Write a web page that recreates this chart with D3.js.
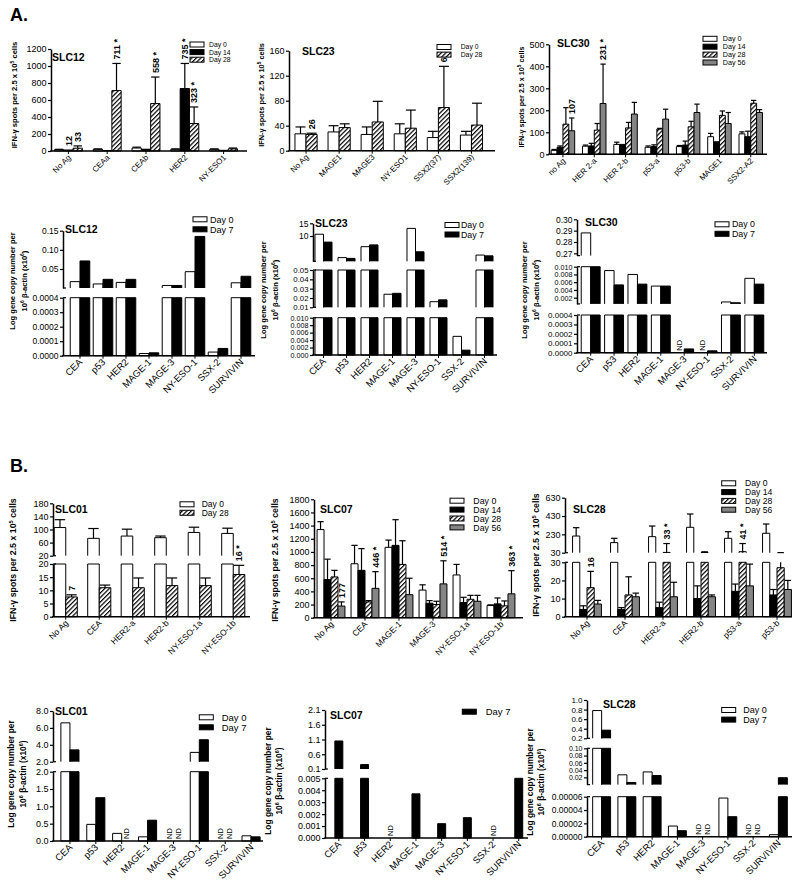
<!DOCTYPE html>
<html><head><meta charset="utf-8">
<script src="https://cdn.jsdelivr.net/npm/d3@7"></script>
<style>body{margin:0;background:#fff}svg{display:block}text{font-family:"Liberation Sans",Arial,sans-serif;fill:#000}</style>
</head><body><svg id="c" width="800" height="889"></svg>
<script>
// ================= DATA =================
const geneCats = ["CEA","p53","HER2","MAGE-1","MAGE-3","NY-ESO-1","SSX-2","SURVIVIN"];

// A1  SLC12 ELISPOT
const a1Cats = ["No Ag","CEAa","CEAb","HER2","NY-ESO1"];
const a1Series = ["Day 0","Day 14","Day 28"];
const a1Values = [[15,20,35,20,20],[12,5,15,735,8],[33,711,558,323,25]];
const a1Errors = [[20,25,45,25,25],[null,null,20,1030,null],[60,1030,870,518,35]];
const a1Labels = [["No Ag",1,"12"],["No Ag",2,"33"],["CEAa",2,"711 *"],["CEAb",2,"558 *"],["HER2",1,"735 *"],["HER2",2,"323 *"]];
const a1Ticks = [[0,200,400,600,800,1000,1200]];
const a1Domains = [[0,1200]];

// A2  SLC23 ELISPOT
const a2Cats = ["No Ag","MAGE1","MAGE3","NY-ESO1","SSX2(37)","SSX2(139)"];
const a2Series = ["Day 0","Day 28"];
const a2Values = [[27,30,26,27,21,25],[26,37,46,36,69,41]];
const a2Errors = [[38,40,38,43,31,31],[28,43,79,65,135,76]];
const a2Labels = [["No Ag",1,"26"],["SSX2(37)",1,"69 *"]];
const a2Ticks = [[0,40,80,120,160]];
const a2Domains = [[0,160]];

// A3  SLC30 ELISPOT
const a3Cats = ["no Ag","HER 2-a","HER 2-b","p53-a","p53-b","MAGE1","SSX2-A2"];
const a3Series = ["Day 0","Day 14","Day 28","Day 56"];
const a3Values = [[18,37,45,32,35,80,93],[32,38,45,35,42,57,80],[137,110,120,115,125,177,232],[107,231,183,160,190,140,190]];
const a3Errors = [[22,42,55,38,40,95,102],[38,50,null,43,60,null,105],[212,140,145,118,150,197,245],[165,410,236,205,228,190,203]];
const a3Labels = [["no Ag",3,"107"],["HER 2-a",3,"231 *"]];
const a3Ticks = [[0,100,200,300,400,500]];
const a3Domains = [[0,500]];

// A4  SLC12 gene copies
const a4Series = ["Day 0","Day 7"];
const a4Values = [[0.017,0.011,0.015,0.000015,0.007,0.043,0.000025,0.014],[0.071,0.023,0.023,0.00002,0.007,0.135,0.00005,0.031]];
const a4Domains = [[0,0.0004],[0.0004,0.15]];
const a4Ticks = [[0,0.0001,0.0002,0.0003,0.0004],[0.05,0.10,0.15]];
const a4Formats = [".4f",".2f"];

// A5  SLC23 gene copies
const a5Series = ["Day 0","Day 7"];
const a5Values = [[10.7,1.5,5.8,0.024,13.0,0.016,0.005,2.5],[7.6,1.2,6.5,0.025,3.8,0.018,0.0013,2.2]];
const a5Domains = [[0,0.01],[0.01,0.05],[0.05,15]];
const a5Ticks = [[0,0.002,0.004,0.006,0.008,0.010],[0.01,0.02,0.03,0.04,0.05],[10,15]];
const a5Formats = [".3f",".2f","d"];

// A6  SLC30 gene copies (null = ND)
const a6Series = ["Day 0","Day 7"];
const a6Values = [[0.288,0.009,0.008,0.005,null,null,0.0009,0.007],[0.010,0.0053,0.0055,0.005,0.00004,0.00002,0.0007,0.0055]];
const a6Domains = [[0,0.0004],[0.0004,0.010],[0.268,0.30]];
const a6Ticks = [[0,0.0001,0.0002,0.0003,0.0004],[0.002,0.004,0.006,0.008,0.010],[0.27,0.28,0.29,0.30]];
const a6Formats = [".4f",".3f",".2f"];

// B1  SLC01 ELISPOT
const b1Cats = ["No Ag","CEA","HER2-a","HER2-b","NY-ESO-1a","NY-ESO-1b"];
const b1Series = ["Day 0","Day 28"];
const b1Values = [[106,73,80,75,91,88],[7.5,11,11,11.8,11.8,16]];
const b1Errors = [[130,103,101,80,107,104],[8.3,12,14.7,14.7,14.7,19.5]];
const b1Labels = [["No Ag",1,"7"],["NY-ESO-1b",1,"16 *"]];
const b1Domains = [[0,20],[20,180]];
const b1Ticks = [[0,5,10,15,20],[20,60,100,140,180]];

// B2  SLC07 ELISPOT
const b2Cats = ["No Ag","CEA","MAGE-1","MAGE-3","NY-ESO-1a","NY-ESO-1b"];
const b2Series = ["Day 0","Day 14","Day 28","Day 56"];
const b2Values = [[1340,820,1070,420,650,185],[580,720,1100,220,230,210],[620,240,810,200,280,180],[177,446,350,514,250,363]];
const b2Errors = [[1460,1100,1180,500,810,195],[890,1050,1490,260,310,300],[720,260,1170,250,340,255],[240,700,600,865,340,715]];
const b2Labels = [["No Ag",3,"177"],["CEA",3,"446 *"],["MAGE-3",3,"514 *"],["NY-ESO-1b",3,"363 *"]];
const b2Domains = [[0,1800]];
const b2Ticks = [[0,200,400,600,800,1000,1200,1400,1600,1800]];

// B3  SLC28 ELISPOT
const b3Cats = ["No Ag","CEA","HER2-a","HER2-b","p53-a","p53-b"];
const b3Series = ["Day 0","Day 14","Day 28","Day 56"];
const b3Values = [[212,140,205,307,187,242],[4,4,5,10,14,12],[16,12,33,32,41,27],[7,11,11,11,17,15]];
const b3Errors = [[303,187,321,452,259,343],[6,5,8,17,18,15],[25,22,130,40,130,31],[9,13,19,12,29,20]];
const b3Labels = [["No Ag",2,"16"],["HER2-a",2,"33 *"],["p53-a",2,"41 *"]];
const b3Domains = [[0,30],[30,630]];
const b3Ticks = [[0,10,20,30],[30,230,430,630]];

// B4  SLC01 gene copies
const b4Series = ["Day 0","Day 7"];
const b4Values = [[6.6,0.48,0.22,0.12,null,3.1,null,0.15],[3.4,1.25,null,0.6,null,4.6,null,0.12]];
const b4Domains = [[0,2],[2,8]];
const b4Ticks = [[0,0.5,1.0,1.5,2.0],[2,4,6,8]];
const b4Formats = [".1f",".1f"];

// B5  SLC07 gene copies
const b5Series = ["Day 7"];
const b5Values = [[1.05,0.25,null,0.0037,0.0012,0.0017,null,0.005]];
const b5Domains = [[0,0.005],[0.1,2.1]];
const b5Ticks = [[0,0.001,0.002,0.003,0.004,0.005],[0.1,0.6,1.1,1.6,2.1]];
const b5Formats = [".3f",".1f"];

// B6  SLC28 gene copies
const b6Series = ["Day 0","Day 7"];
const b6Values = [[0.78,0.027,0.035,0.000016,null,0.000058,null,0.000003],[0.37,0.006,0.025,0.000009,null,0.00003,null,0.019]];
const b6Domains = [[0,0.00006],[0.00006,0.10],[0.2,1.0]];
const b6Ticks = [[0,0.00002,0.00004,0.00006],[0.02,0.04,0.06,0.08,0.10],[0.2,0.4,0.6,0.8,1.0]];
const b6Formats = [".5f",".2f",".1f"];

// ================= DRAWING =================
const svg = d3.select("#c");
const defs = svg.append("defs");
const pat = defs.append("pattern").attr("id","hatch").attr("patternUnits","userSpaceOnUse")
  .attr("width",3.2).attr("height",3.2).attr("patternTransform","rotate(45)");
pat.append("rect").attr("width",3.2).attr("height",3.2).attr("fill","#fff");
pat.append("line").attr("x1",0.6).attr("y1",0).attr("x2",0.6).attr("y2",3.2).attr("stroke","#000").attr("stroke-width",1.2);

const fills = {"Day 0":"#fff","Day 14":"#000","Day 28":"url(#hatch)","Day 56":"#858585","Day 7":"#000"};

function rich(sel, parts, fs){
  let prevSup=false;
  parts.forEach(([t,sup])=>{
    const ts = sel.append("tspan").text(t).attr("font-size", sup? fs*0.65 : fs);
    if (sup) ts.attr("dy", -fs*0.38); else if (prevSup) ts.attr("dy", fs*0.38);
    prevSup = sup;
  });
}
const ifnTitle = [["IFN-\u03b3 spots per 2.5 x 10",0],["5",1],[" cells",0]];
const geneTitle1 = [["Log gene copy number per",0]];
const geneTitle2 = [["10",0],["6",1],[" \u03b2-actin (x10",0],["6",1],[")",0]];

function drawPanel(c){
  const g = svg.append("g");
  const segs = c.domains.map((d,i)=>({domain:d, ticks:c.ticks[i], fmt:(c.formats||[])[i]||"d",
     y:d3.scaleLinear().domain(d).range(c.ranges[i])}));
  const base = c.ranges[0][0];
  const xg = d3.scaleBand().domain(c.cats).range(c.band).paddingInner(c.pad).paddingOuter(c.pad/2);
  const xs = d3.scaleBand().domain(d3.range(c.series.length)).range([0,xg.bandwidth()]);
  const bw = xs.bandwidth();

  // bars
  c.series.forEach((sn,j)=>{
    c.cats.forEach((cat,i)=>{
      const v = c.values[j][i];
      const bx = xg(cat)+xs(j), cx = bx+bw/2;
      if (v==null){
        g.append("text").attr("transform",`translate(${cx+2.6},${base-2}) rotate(-90)`)
          .attr("font-size",7.5).text("ND");
        return;
      }
      segs.forEach((s,k)=>{
        const a=s.domain[0], b=s.domain[1];
        if (v<=a) return;
        const top=Math.min(v,b);
        const y0=s.y(a), y1=s.y(top);
        g.append("rect").attr("x",bx).attr("y",y1).attr("width",bw).attr("height",Math.max(0,y0-y1))
          .attr("fill",fills[sn]);
        g.append("path").attr("d",`M${bx},${y0}V${y1}H${bx+bw}V${y0}`+(k===0?"Z":""))
          .attr("fill","none").attr("stroke","#000").attr("stroke-width",1);
      });
      const e = c.errors ? c.errors[j][i] : null;
      if (e!=null && e>v){
        segs.forEach(s=>{
          const lo=Math.max(v,s.domain[0]), hi=Math.min(e,s.domain[1]);
          if (hi<=lo) return;
          g.append("line").attr("x1",cx).attr("x2",cx).attr("y1",s.y(lo)).attr("y2",s.y(hi))
            .attr("stroke","#000").attr("stroke-width",1.2);
        });
        const st = segs.find(s=>e>=s.domain[0]&&e<=s.domain[1]);
        if (st) g.append("line").attr("x1",cx-bw*0.45).attr("x2",cx+bw*0.45).attr("y1",st.y(e)).attr("y2",st.y(e))
            .attr("stroke","#000").attr("stroke-width",1.2);
      }
    });
  });

  // value labels
  (c.labels||[]).forEach(([cat,j,txt])=>{
    const v=c.values[j][c.cats.indexOf(cat)];
    const e=c.errors? c.errors[j][c.cats.indexOf(cat)] : null;
    let top=Math.max(v, e==null? v : e);
    let s = segs.find(s=>top>=s.domain[0]&&top<=s.domain[1]);
    if (!s){ s = segs.filter(s=>s.domain[1]<top).pop(); top=s.domain[1]; }
    const cx = xg(cat)+xs(j)+bw/2;
    g.append("text").attr("transform",`translate(${cx+3.2},${s.y(top)-4}) rotate(-90)`)
      .attr("font-size",9).attr("font-weight","bold").text(txt);
  });

  // y axis segments
  segs.forEach((s,k)=>{
    const ax = g.append("g").attr("transform",`translate(${c.axisX},0)`)
      .call(d3.axisLeft(s.y).tickValues(s.ticks).tickFormat(d3.format(s.fmt)).tickSize(3).tickSizeOuter(0).tickPadding(1.5));
    ax.select(".domain").attr("stroke-width",1.5);
    ax.selectAll(".tick line").attr("stroke-width",1.2);
    const fs = (c.segFs && c.segFs[k]) || c.tickFs;
    ax.selectAll("text").attr("font-size",fs).attr("font-family","Liberation Sans, Arial, sans-serif").attr("fill","#222");
    if (segs.length>1){
      const ends=[];
      if (k>0) ends.push(s.y(s.domain[0]));
      if (k<segs.length-1) ends.push(s.y(s.domain[1]));
      ends.forEach(yy=>g.append("line").attr("x1",c.axisX).attr("x2",c.axisX+3).attr("y1",yy).attr("y2",yy)
        .attr("stroke","#000").attr("stroke-width",1.2));
    }
  });

  // x axis
  g.append("line").attr("x1",c.axisX-0.75).attr("x2",c.xEnd).attr("y1",base).attr("y2",base)
    .attr("stroke","#000").attr("stroke-width",1.5);
  c.cats.forEach(cat=>{
    const cx = xg(cat)+xg.bandwidth()/2;
    g.append("line").attr("x1",cx).attr("x2",cx).attr("y1",base).attr("y2",base+3).attr("stroke","#000").attr("stroke-width",1);
    g.append("text").attr("transform",`translate(${cx+3},${base+7}) rotate(-45)`)
      .attr("text-anchor","end").attr("font-size",c.xFs).attr("fill","#222").text(cat);
  });

  // title
  g.append("text").attr("x",c.title[0]).attr("y",c.title[1]).attr("font-size",10.5).attr("font-weight","bold").text(c.name);

  // y title
  if (c.gene){
    [geneTitle1,geneTitle2].forEach((parts,li)=>{
      const t=g.append("text").attr("transform",`translate(${c.ytitle[li]},${c.ytitle[2]}) rotate(-90)`)
        .attr("text-anchor","middle").attr("font-weight","bold");
      rich(t,parts,c.ytFs);
    });
  } else {
    const t=g.append("text").attr("transform",`translate(${c.ytitle[0]},${c.ytitle[1]}) rotate(-90)`)
      .attr("text-anchor","middle").attr("font-weight","bold");
    rich(t,ifnTitle,c.ytFs);
  }

  // legend
  const L=c.legend;
  c.series.forEach((sn,k)=>{
    const yy=L.y+k*L.dy;
    g.append("rect").attr("x",L.x).attr("y",yy-2.5).attr("width",14).attr("height",5)
      .attr("fill",fills[sn]).attr("stroke","#000").attr("stroke-width",1);
    g.append("text").attr("x",L.tx).attr("y",yy+L.fs*0.36).attr("font-size",L.fs).attr("fill","#222").text(sn);
  });
}

svg.append("text").attr("x",10).attr("y",21).attr("font-size",18).attr("font-weight","bold").text("A.");
svg.append("text").attr("x",10).attr("y",472).attr("font-size",18).attr("font-weight","bold").text("B.");

drawPanel({name:"SLC12",cats:a1Cats,series:a1Series,values:a1Values,errors:a1Errors,labels:a1Labels,
  domains:a1Domains,ticks:a1Ticks,ranges:[[151,49]],axisX:51,xEnd:247,band:[49,243],pad:0.28,
  title:[52,61],ytitle:[17,95],ytFs:7.6,tickFs:9,xFs:8,legend:{x:190,y:44.5,dy:7.6,tx:209,fs:6.8}});
drawPanel({name:"SLC23",cats:a2Cats,series:a2Series,values:a2Values,errors:a2Errors,labels:a2Labels,
  domains:a2Domains,ticks:a2Ticks,ranges:[[150.7,50.7]],axisX:289,xEnd:495,band:[289.5,488],pad:0.33,
  title:[302,55],ytitle:[264,95],ytFs:7.4,tickFs:9,xFs:8,legend:{x:437,y:47,dy:7.6,tx:460.7,fs:6.8}});
drawPanel({name:"SLC30",cats:a3Cats,series:a3Series,values:a3Values,errors:a3Errors,labels:a3Labels,
  domains:a3Domains,ticks:a3Ticks,ranges:[[154.3,44.3]],axisX:549,xEnd:767,band:[547.3,766.4],pad:0.25,
  title:[557,47],ytitle:[524,97],ytFs:7.2,tickFs:9,xFs:8,legend:{x:703,y:38.8,dy:7.9,tx:722.7,fs:7.2}});

drawPanel({name:"SLC12",gene:true,cats:geneCats,series:a4Series,values:a4Values,
  domains:a4Domains,ticks:a4Ticks,formats:a4Formats,ranges:[[355.7,297.7],[288,230.7]],axisX:63,xEnd:255,band:[68.5,252.5],pad:0.15,
  title:[65,233],ytitle:[15,27,281],ytFs:7.6,tickFs:8.5,xFs:9.5,legend:{x:193,y:219.3,dy:10,tx:210,fs:9}});
drawPanel({name:"SLC23",gene:true,cats:geneCats,series:a5Series,values:a5Values,
  domains:a5Domains,ticks:a5Ticks,formats:a5Formats,segFs:[7.2,7.8,8.5],ranges:[[355,317.7],[307.3,270],[261.3,223.3]],axisX:313,xEnd:497,band:[312,496],pad:0.26,
  title:[315,227],ytitle:[266,278,290],ytFs:7.6,tickFs:8.5,xFs:9.5,legend:{x:445,y:225,dy:9.5,tx:461,fs:8.8}});
drawPanel({name:"SLC30",gene:true,cats:geneCats,series:a6Series,values:a6Values,
  domains:a6Domains,ticks:a6Ticks,formats:a6Formats,segFs:[8,7.2,8.5],ranges:[[352.7,315],[303.9,266.7],[255.6,219.3]],axisX:577,xEnd:767,band:[579,766],pad:0.19,
  title:[585,226],ytitle:[527,539,290],ytFs:7.6,tickFs:8.5,xFs:9.5,legend:{x:715,y:224.3,dy:9.5,tx:732,fs:8.8}});

drawPanel({name:"SLC01",cats:b1Cats,series:b1Series,values:b1Values,errors:b1Errors,labels:b1Labels,
  domains:b1Domains,ticks:b1Ticks,ranges:[[616.7,564],[555.7,503.3]],axisX:53,xEnd:250,band:[49,250],pad:0.31,
  title:[55,513],ytitle:[16,560],ytFs:8.8,tickFs:9,xFs:8.5,legend:{x:180,y:504.3,dy:8.5,tx:201.7,fs:8.5}});
drawPanel({name:"SLC07",cats:b2Cats,series:b2Series,values:b2Values,errors:b2Errors,labels:b2Labels,
  domains:b2Domains,ticks:b2Ticks,ranges:[[617.7,499.3]],axisX:314,xEnd:523,band:[314,518],pad:0.18,
  title:[320,513],ytitle:[278,560],ytFs:8.8,tickFs:9,xFs:8.5,legend:{x:450,y:500.7,dy:8.9,tx:473.3,fs:8.8}});
drawPanel({name:"SLC28",cats:b3Cats,series:b3Series,values:b3Values,errors:b3Errors,labels:b3Labels,
  domains:b3Domains,ticks:b3Ticks,ranges:[[616.7,562.3],[552.7,497.7]],axisX:565,xEnd:792,band:[568,796],pad:0.24,
  title:[573,513],ytitle:[539,555],ytFs:8.8,tickFs:9,xFs:8.5,legend:{x:721.7,y:483.3,dy:8.8,tx:745,fs:8.6}});

drawPanel({name:"SLC01",gene:true,cats:geneCats,series:b4Series,values:b4Values,
  domains:b4Domains,ticks:b4Ticks,formats:b4Formats,ranges:[[841,771.7],[761.7,711]],axisX:53,xEnd:263,band:[57,264],pad:0.3,
  title:[55,715],ytitle:[14,26,774],ytFs:8.4,tickFs:9,xFs:9.5,legend:{x:199.3,y:717.3,dy:10,tx:221.7,fs:9.5}});
drawPanel({name:"SLC07",gene:true,cats:geneCats,series:b5Series,values:b5Values,
  domains:b5Domains,ticks:b5Ticks,formats:b5Formats,ranges:[[838,778.3],[769,710]],axisX:325,xEnd:528,band:[326,531.6],pad:0.69,
  title:[330,719],ytitle:[271,282,781],ytFs:8.4,tickFs:9,xFs:9.5,legend:{x:462.3,y:711.7,dy:10,tx:485.7,fs:9.5}});
drawPanel({name:"SLC28",gene:true,cats:geneCats,series:b6Series,values:b6Values,
  domains:b6Domains,ticks:b6Ticks,formats:b6Formats,segFs:[8.5,7,8],ranges:[[836.7,796.7],[784.6,748.3],[738.3,700]],axisX:587,xEnd:792,band:[589,791],pad:0.29,
  title:[603,708],ytitle:[533,544,782],ytFs:8.4,tickFs:9,xFs:9.5,legend:{x:721.7,y:710,dy:9.6,tx:743.3,fs:9}});
</script></body></html>
